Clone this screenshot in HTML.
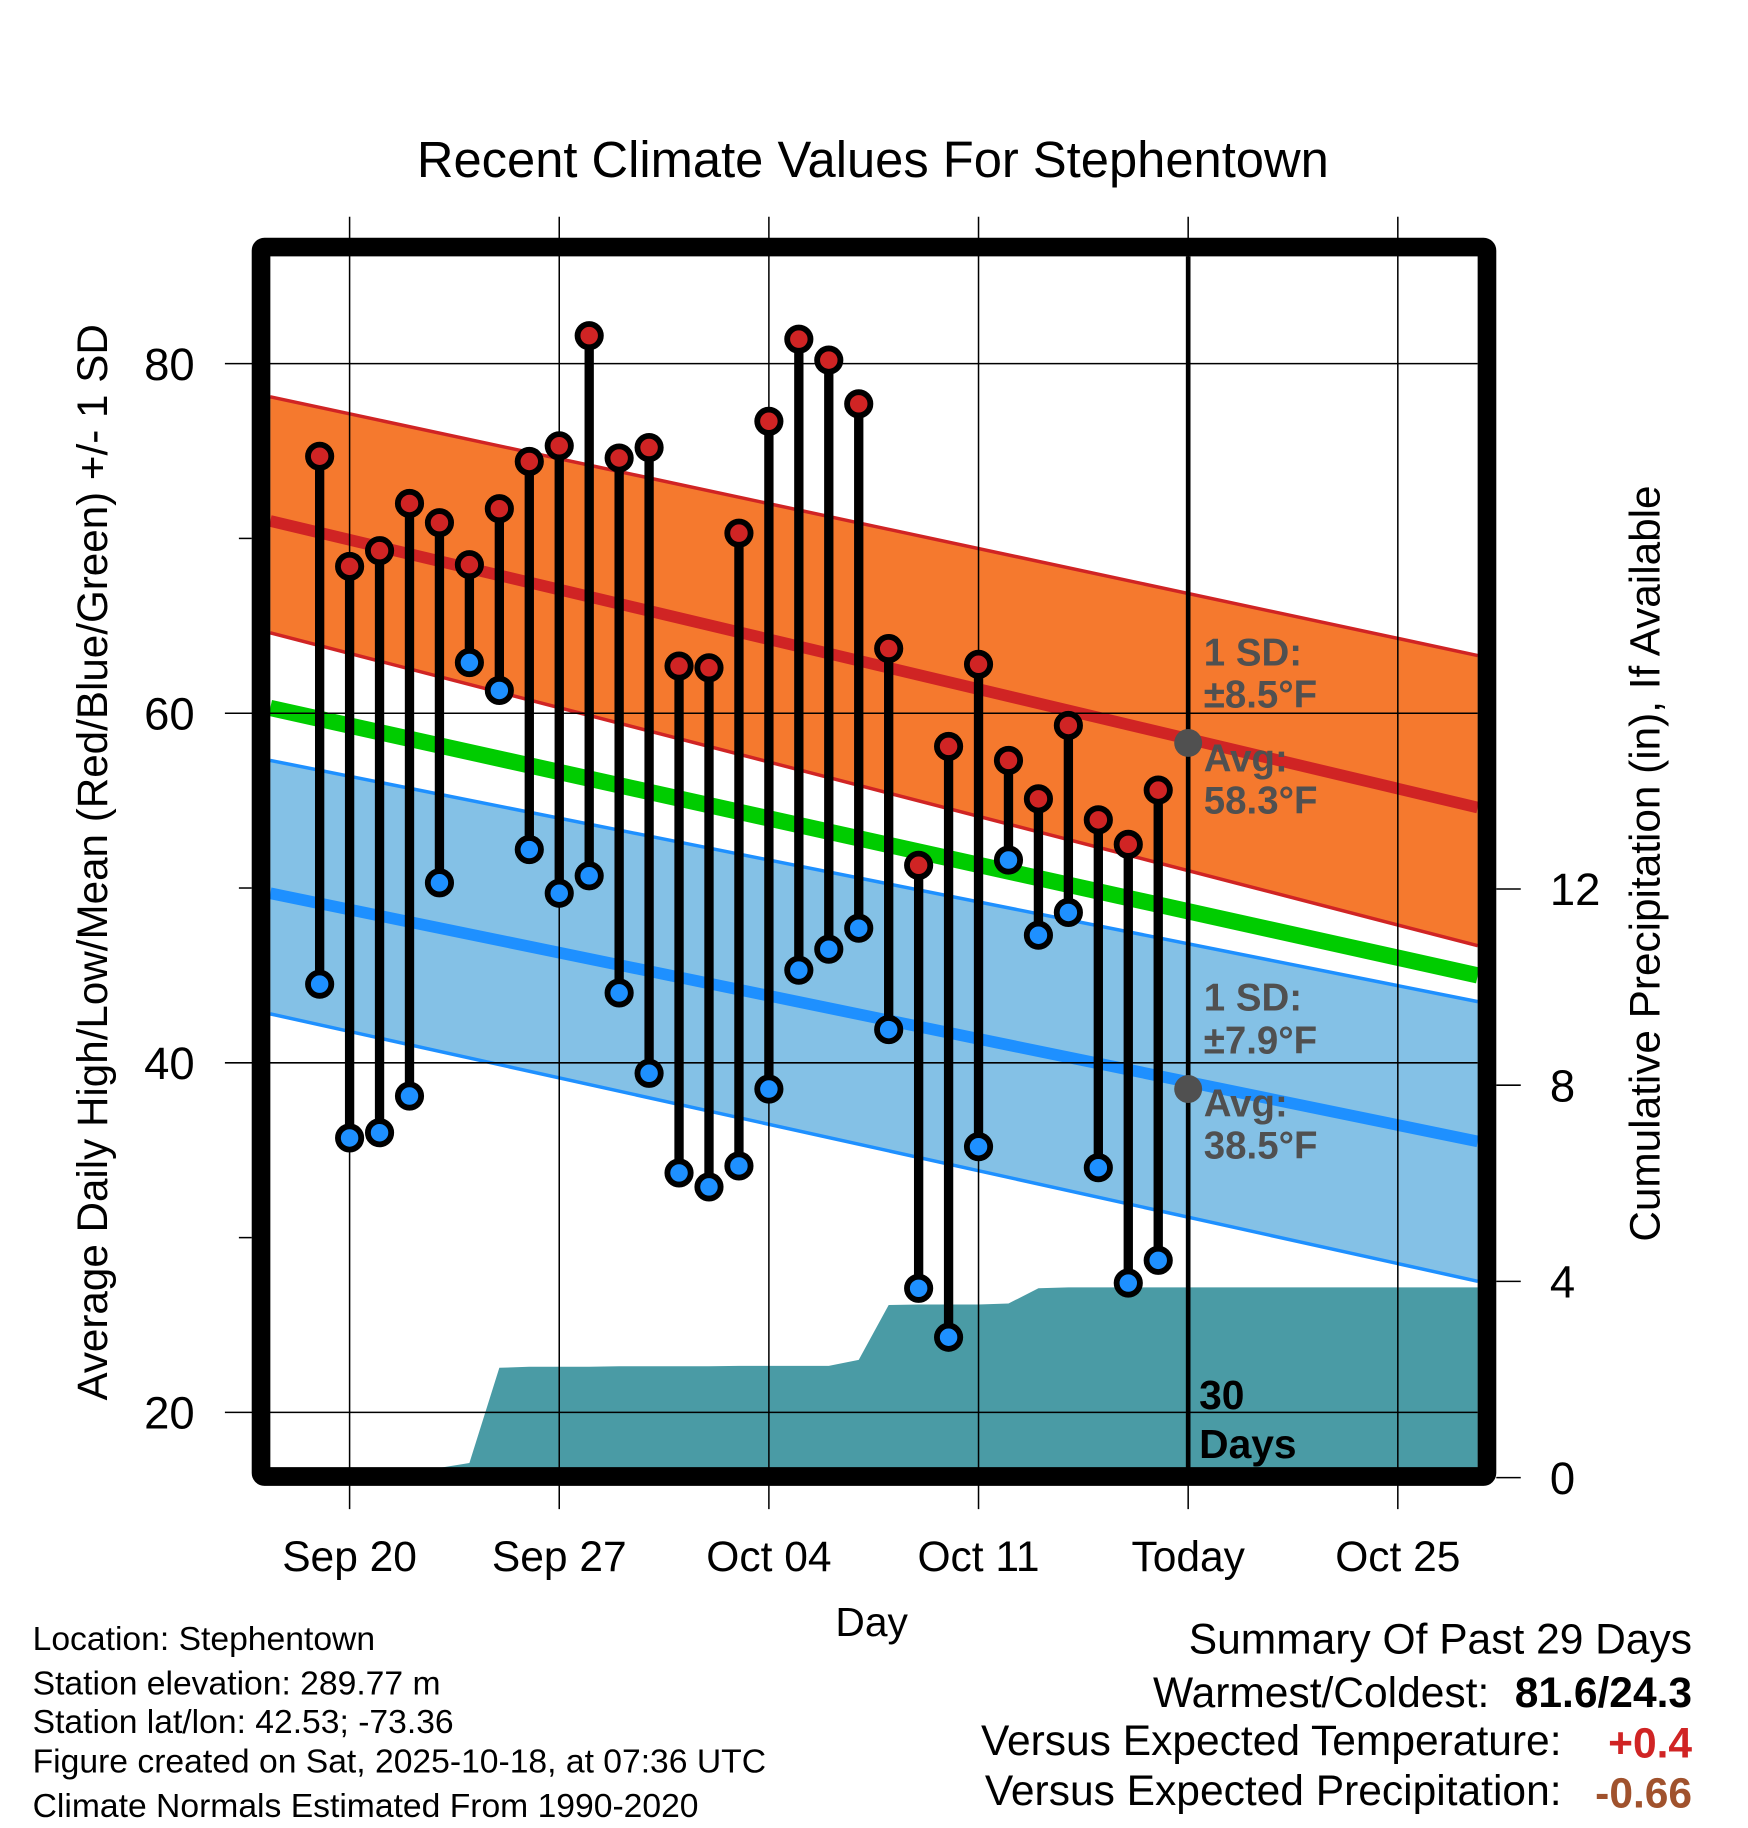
<!DOCTYPE html>
<html><head><meta charset="utf-8">
<style>
html,body{margin:0;padding:0;background:#fff;}
svg{display:block;font-family:"Liberation Sans",Arial,sans-serif;}
</style></head>
<body>
<svg id="chart" width="1748" height="1828" viewBox="0 0 1500 1568.6" xmlns="http://www.w3.org/2000/svg">
<rect x="0" y="0" width="1500" height="1568.6" fill="#fff"/>
<text x="749" y="152" font-size="43.5" text-anchor="middle">Recent Climate Values For Stephentown</text>
<g id="bands"></g>
<g id="precip"></g>
<g id="grid"></g>
<g id="marks"></g>
<g id="annot"></g>
<g id="axes"></g>
<text transform="translate(92,740) rotate(-90)" font-size="36.2" text-anchor="middle">Average Daily High/Low/Mean (Red/Blue/Green) +/- 1 SD</text>
<text transform="translate(1424,741) rotate(-90)" font-size="36.3" text-anchor="middle">Cumulative Precipitation (in), If Available</text>
<text x="748" y="1404" font-size="35" text-anchor="middle">Day</text>
<g font-size="28.9">
<text x="28" y="1416">Location: Stephentown</text>
<text x="28" y="1454">Station elevation: 289.77 m</text>
<text x="28" y="1487">Station lat/lon: 42.53; -73.36</text>
<text x="28" y="1521">Figure created on Sat, 2025-10-18, at 07:36 UTC</text>
<text x="28" y="1559">Climate Normals Estimated From 1990-2020</text>
</g>
<g font-size="36.5">
<text x="1452" y="1419" text-anchor="end">Summary Of Past 29 Days</text>
<text x="1278" y="1465" text-anchor="end">Warmest/Coldest:</text>
<text x="1452" y="1465" text-anchor="end" font-weight="bold">81.6/24.3</text>
<text x="1340" y="1506" text-anchor="end">Versus Expected Temperature:</text>
<text x="1452" y="1508" text-anchor="end" font-weight="bold" fill="#d02424">+0.4</text>
<text x="1340" y="1549" text-anchor="end">Versus Expected Precipitation:</text>
<text x="1452" y="1551" text-anchor="end" font-weight="bold" fill="#a0522d">-0.66</text>
</g>
</svg>
<script>
// data
const days = [-1,0,1,2,3,4,5,6,7,8,9,10,11,12,13,14,15,16,17,18,19,20,21,22,23,24,25,26,27];
const highs = [74.7,68.4,69.3,72.0,70.9,68.5,71.7,74.4,75.3,81.6,74.6,75.2,62.7,62.6,70.3,76.7,81.4,80.2,77.7,63.7,51.3,58.1,62.8,57.3,55.1,59.3,53.9,52.5,55.6];
const lows = [44.5,35.7,36.0,38.1,50.3,62.9,61.3,52.2,49.7,50.7,44.0,39.4,33.7,32.9,34.1,38.5,45.3,46.5,47.7,41.9,27.1,24.3,35.2,51.6,47.3,48.6,34.0,27.4,28.7];
const precipDays = [-2.65,-1,0,1,2,3,4,5,6,7,8,9,10,11,12,13,14,15,16,17,18,19,20,21,22,23,24,25,26,27,37.67];
const precip = [0,0,0,0,0,0.2,0.3,2.24,2.26,2.26,2.26,2.27,2.27,2.27,2.27,2.28,2.28,2.28,2.28,2.4,3.52,3.53,3.53,3.53,3.55,3.86,3.88,3.88,3.88,3.88,3.88];
const normDays = [-2.65,37.67];
const hiUpper = [78.1,63.3];
const hiAvg = [71.0,54.6];
const hiLower = [64.6,46.7];
const meanAvg = [60.3,45.0];
const loUpper = [57.3,43.5];
const loAvg = [49.7,35.5];
const loLower = [42.8,27.5];
const xTickDays = [0,7,14,21,28,35];
const xTickLabels = ["Sep 20","Sep 27","Oct 04","Oct 11","Today","Oct 25"];
const yTicks = [20,40,60,80];
const yMinor = [30,50,70];
const y2Ticks = [0,4,8,12];
const todayDay = 28;
const todayHiAvg = 58.3, todayLoAvg = 38.5;

const L=232,R=1268,T=220,B=1260;
const X=d=>300+d*25.7;
const Y=v=>312+(80-v)*15;
const Y2=p=>1268-p*42.1;
const NS="http://www.w3.org/2000/svg";
function mk(tag,attrs,parent){const e=document.createElementNS(NS,tag);for(const k in attrs)e.setAttribute(k,attrs[k]);parent.appendChild(e);return e;}
const g=id=>document.getElementById(id);

function band(up,lo,fill,name){
  const pts=[[X(normDays[0]),Y(up[0])],[X(normDays[1]),Y(up[1])],[X(normDays[1]),Y(lo[1])],[X(normDays[0]),Y(lo[0])]];
  const e=mk('polygon',{points:pts.map(p=>p.join(',')).join(' '),fill:fill},g('bands'));
  
  
}
function line(arr,color,w,name){
  const e=mk('line',{x1:X(normDays[0]),y1:Y(arr[0]),x2:X(normDays[1]),y2:Y(arr[1]),stroke:color,'stroke-width':w},g('bands'));
  
  
}
band(hiUpper,hiLower,'#f5792e','high-sd-band');
band(loUpper,loLower,'#84c1e6','low-sd-band');
line(hiUpper,'#d02424',3,'high-upper-line');
line(hiLower,'#d02424',3,'high-lower-line');
line(loUpper,'#1e90ff',3,'low-upper-line');
line(loLower,'#1e90ff',3,'low-lower-line');
line(hiAvg,'#d02424',10,'high-avg-line');
line(meanAvg,'#00cc00',14,'mean-avg-line');
line(loAvg,'#1e90ff',10,'low-avg-line');

{
  let pts=precipDays.map((d,i)=>X(d)+','+Y2(precip[i]));
  pts.push(X(precipDays[precipDays.length-1])+','+B);
  pts.push(X(precipDays[0])+','+B);
  const e=mk('polygon',{points:pts.join(' '),fill:'#4a9ba5'},g('precip'));
  
  
}

xTickDays.forEach(d=>{
  const e=mk('line',{x1:X(d),x2:X(d),y1:186,y2:1295,stroke:'#000','stroke-width':1.3},g('grid'));
  
  
});
yTicks.forEach(v=>{
  const e=mk('line',{x1:193,x2:R,y1:Y(v),y2:Y(v),stroke:'#000','stroke-width':1.3},g('grid'));
  
  
});

{
  const e=mk('line',{x1:X(todayDay),x2:X(todayDay),y1:T,y2:B,stroke:'#000','stroke-width':4},g('marks'));
  
  
}

days.forEach((d,i)=>{
  const s=mk('line',{x1:X(d),x2:X(d),y1:Y(highs[i]),y2:Y(lows[i]),stroke:'#000','stroke-width':8},g('marks'));
  
  
});
days.forEach((d,i)=>{
  const h=mk('circle',{cx:X(d),cy:Y(highs[i]),r:10,fill:'#d02424',stroke:'#000','stroke-width':5},g('marks'));
  
  
  const l=mk('circle',{cx:X(d),cy:Y(lows[i]),r:10,fill:'#1e90ff',stroke:'#000','stroke-width':5},g('marks'));
  
  
});

{
  const a=g('annot');
  const c1=mk('circle',{cx:X(todayDay),cy:Y(todayHiAvg),r:12,fill:'#505050'},a);
  
  
  const c2=mk('circle',{cx:X(todayDay),cy:Y(todayLoAvg),r:12,fill:'#505050'},a);
  
  
  const labels=[["1 SD:",571],["±8.5°F",607],["Avg:",662],["58.3°F",698],["1 SD:",867],["±7.9°F",904],["Avg:",958],["38.5°F",994]];
  labels.forEach(([t,y])=>{
    const e=mk('text',{x:1033,y:y,'font-size':33,'font-weight':'bold',fill:'#505050'},a);
    e.textContent=t;
    
    
  });
  [["30",1209],["Days",1251]].forEach(([t,y])=>{
    const e=mk('text',{x:1029,y:y,'font-size':35,'font-weight':'bold',fill:'#000'},a);
    e.textContent=t;
    
    
  });
}

{
  const a=g('axes');
  const f=mk('rect',{x:224,y:212,width:1052,height:1055,fill:'none',stroke:'#000','stroke-width':16,rx:3},a);
  
  
  yMinor.forEach(v=>{
    const e=mk('line',{x1:205,x2:216,y1:Y(v),y2:Y(v),stroke:'#000','stroke-width':1.3},a);
    
    
  });
  yTicks.forEach(v=>{
    const e=mk('text',{x:167,y:Y(v)+14,'font-size':39,'text-anchor':'end'},a);
    e.textContent=v;
    
    
  });
  y2Ticks.forEach(p=>{
    const t=mk('line',{x1:1284,x2:1305,y1:Y2(p),y2:Y2(p),stroke:'#000','stroke-width':1.3},a);
    
    
    const e=mk('text',{x:1330,y:Y2(p)+14,'font-size':39},a);
    e.textContent=p;
    
    
  });
  xTickDays.forEach((d,i)=>{
    const e=mk('text',{x:X(d),y:1348,'font-size':36.5,'text-anchor':'middle'},a);
    e.textContent=xTickLabels[i];
    
    
  });
}
</script>
</body></html>
